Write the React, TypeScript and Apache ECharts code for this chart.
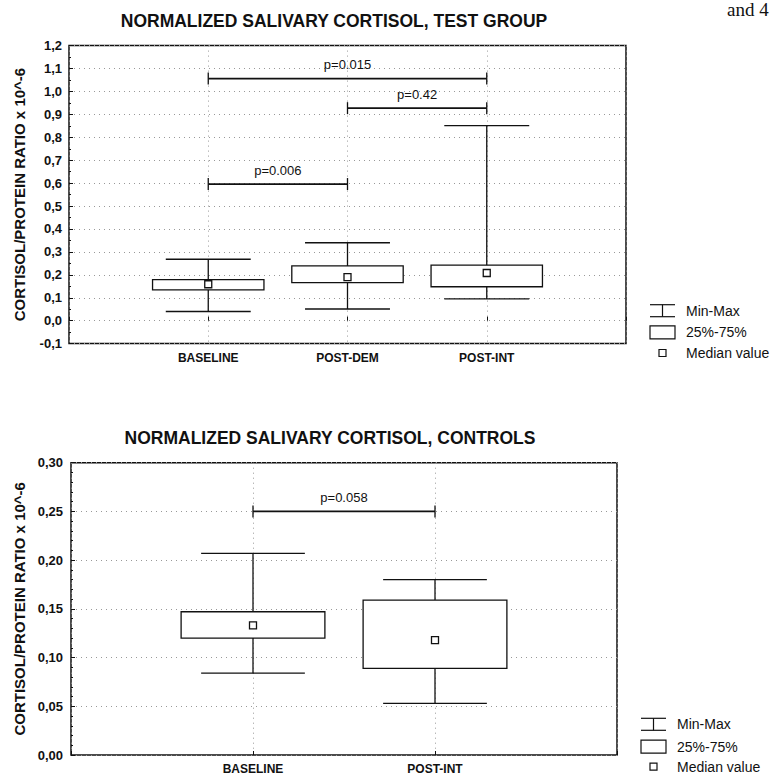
import React, { useEffect, useRef } from "react";
import * as echarts from "echarts";

const FONT = "'Liberation Sans', Arial, Helvetica, sans-serif";

// ---- Test group ----
const testCategories = ["BASELINE", "POST-DEM", "POST-INT"];
const testMin = [0.04, 0.051, 0.095];
const testQ1 = [0.134, 0.166, 0.148];
const testMedian = [0.159, 0.19, 0.208];
const testQ3 = [0.179, 0.239, 0.242];
const testMax = [0.268, 0.34, 0.851];
const testBracketFrom = [1, 2, 1];
const testBracketTo = [3, 3, 2];
const testBracketY = [1.056, 0.927, 0.596];
const testBracketLabel = ["p=0.015", "p=0.42", "p=0.006"];

// ---- Controls ----
const controlCategories = ["BASELINE", "POST-INT"];
const controlMin = [0.084, 0.053];
const controlQ1 = [0.12, 0.089];
const controlMedian = [0.133, 0.118];
const controlQ3 = [0.147, 0.159];
const controlMax = [0.207, 0.18];
const controlBracketFrom = [1];
const controlBracketTo = [2];
const controlBracketY = [0.25];
const controlBracketLabel = ["p=0.058"];

const legendLabels = ["Min-Max", "25%-75%", "Median value"];
const yAxisName = "CORTISOL/PROTEIN RATIO x 10^-6";
const titleTest = "NORMALIZED SALIVARY CORTISOL, TEST GROUP";
const titleControls = "NORMALIZED SALIVARY CORTISOL, CONTROLS";

function boxData(cats: string[], mn: number[], q1: number[], md: number[], q3: number[], mx: number[]) {
  return cats.map((_, i) => [i + 1, mn[i], q1[i], md[i], q3[i], mx[i]]);
}
function bracketData(from: number[], to: number[], y: number[]) {
  return from.map((f, i) => [f, to[i], y[i]]);
}

const STROKE = "#111";

function makeBoxRenderer(boxFrac: number, capFrac: number) {
  return (params: any, api: any) => {
    const x = api.value(0);
    const band = api.size([1, 0])[0];
    const p = (v: number) => api.coord([x, v]);
    const [cx, yMin] = p(api.value(1));
    const yQ1 = p(api.value(2))[1];
    const yMed = p(api.value(3))[1];
    const yQ3 = p(api.value(4))[1];
    const yMax = p(api.value(5))[1];
    const bw = band * boxFrac;
    const cw = band * capFrac;
    const ls = { stroke: STROKE, lineWidth: 1.3 };
    return {
      type: "group",
      children: [
        { type: "line", shape: { x1: cx, y1: yMax, x2: cx, y2: yQ3 }, style: ls },
        { type: "line", shape: { x1: cx, y1: yQ1, x2: cx, y2: yMin }, style: ls },
        { type: "line", shape: { x1: cx - cw / 2, y1: yMax, x2: cx + cw / 2, y2: yMax }, style: ls },
        { type: "line", shape: { x1: cx - cw / 2, y1: yMin, x2: cx + cw / 2, y2: yMin }, style: ls },
        {
          type: "rect",
          shape: { x: cx - bw / 2, y: yQ3, width: bw, height: yQ1 - yQ3 },
          style: { fill: "#fff", stroke: STROKE, lineWidth: 1.3 },
        },
        {
          type: "rect",
          shape: { x: cx - 3.5, y: yMed - 3.5, width: 7, height: 7 },
          style: { fill: "#fff", stroke: STROKE, lineWidth: 1.3 },
        },
      ],
    };
  };
}

function makeBracketRenderer(labels: string[]) {
  return (params: any, api: any) => {
    const [x1, y] = api.coord([api.value(0), api.value(2)]);
    const x2 = api.coord([api.value(1), api.value(2)])[0];
    return {
      type: "group",
      children: [
        { type: "line", shape: { x1, y1: y, x2, y2: y }, style: { stroke: STROKE, lineWidth: 1.8 } },
        { type: "line", shape: { x1, y1: y - 6, x2: x1, y2: y + 6 }, style: { stroke: STROKE, lineWidth: 1.3 } },
        { type: "line", shape: { x1: x2, y1: y - 6, x2, y2: y + 6 }, style: { stroke: STROKE, lineWidth: 1.3 } },
        {
          type: "text",
          style: {
            text: labels[params.dataIndex],
            x: (x1 + x2) / 2,
            y: y - 14,
            align: "center",
            verticalAlign: "middle",
            fontSize: 13,
            fontFamily: FONT,
            fill: "#111",
          },
        },
      ],
    };
  };
}

function legendGraphic(x0: number, rows: number[], textX: number) {
  const w = 25;
  const cx = x0 + w / 2;
  const ls = { stroke: STROKE, lineWidth: 1.2, fill: "none" };
  const els: any[] = [
    { type: "line", shape: { x1: x0, y1: rows[0] - 6, x2: x0 + w, y2: rows[0] - 6 }, style: ls },
    { type: "line", shape: { x1: x0, y1: rows[0] + 6, x2: x0 + w, y2: rows[0] + 6 }, style: ls },
    { type: "line", shape: { x1: cx, y1: rows[0] - 6, x2: cx, y2: rows[0] + 6 }, style: ls },
    { type: "rect", shape: { x: x0, y: rows[1] - 6.5, width: w, height: 13 }, style: { fill: "#fff", stroke: STROKE, lineWidth: 1.2 } },
    { type: "rect", shape: { x: cx - 3.5, y: rows[2] - 3.5, width: 7, height: 7 }, style: { fill: "#fff", stroke: STROKE, lineWidth: 1.2 } },
  ];
  legendLabels.forEach((t, i) => {
    els.push({
      type: "text",
      x: textX,
      y: rows[i],
      style: { text: t, align: "left", verticalAlign: "middle", fontSize: 14, fontFamily: FONT, fill: "#111" },
    });
  });
  return els;
}

const gridLine = { show: true, lineStyle: { color: "#999", width: 1, type: [1, 4] as any } };

export default function App() {
  const ref = useRef<HTMLDivElement>(null);
  useEffect(() => {
    if (!ref.current) return;
    const chart = echarts.init(ref.current, null, { renderer: "svg" });
    const xLabel = (cats: string[]) => (v: number) => (Number.isInteger(v) && v >= 1 && v <= cats.length ? cats[v - 1] : "");
    const yLabel = (dec: number) => (v: number) => v.toFixed(dec).replace(".", ",");
    const xAxisBase = {
      type: "value",
      interval: 1,
      min: 0,
      axisLine: { show: false },
      axisTick: { show: true, inside: true, length: 4, lineStyle: { color: STROKE } },
      splitLine: gridLine,
      axisLabel: {
        margin: 8,
        fontSize: 12,
        fontWeight: "bold",
        fontFamily: FONT,
        color: "#111",
        showMinLabel: true,
        showMaxLabel: true,
      },
    };
    const yAxisBase = {
      type: "value",
      axisLine: { show: false },
      axisTick: { show: true, inside: true, length: 4, lineStyle: { color: STROKE } },
      minorTick: { show: true, splitNumber: 2, length: 2, lineStyle: { color: STROKE } },
      splitLine: gridLine,
      nameLocation: "middle",
      nameRotate: 90,
      nameTextStyle: { fontSize: 15, fontWeight: "bold", fontFamily: FONT, color: "#111" },
      axisLabel: { fontSize: 13, fontWeight: "bold", fontFamily: FONT, color: "#111" },
    };
    const option: any = {
      animation: false,
      backgroundColor: "#fff",
      grid: [
        { left: 69, right: 145, top: 45.6, bottom: 431.4, show: true, borderColor: STROKE, borderWidth: 1.5, backgroundColor: "transparent" },
        { left: 71, right: 154, top: 462.7, bottom: 18.3, show: true, borderColor: STROKE, borderWidth: 1.5, backgroundColor: "transparent" },
      ],
      xAxis: [
        { ...xAxisBase, gridIndex: 0, max: testCategories.length + 1, axisLabel: { ...xAxisBase.axisLabel, formatter: xLabel(testCategories) } },
        { ...xAxisBase, gridIndex: 1, max: controlCategories.length + 1, axisLabel: { ...xAxisBase.axisLabel, formatter: xLabel(controlCategories) } },
      ],
      yAxis: [
        {
          ...yAxisBase,
          gridIndex: 0,
          min: -0.1,
          max: 1.2,
          interval: 0.1,
          name: yAxisName,
          nameGap: 42,
          axisLabel: { ...yAxisBase.axisLabel, margin: 7, formatter: yLabel(1) },
        },
        {
          ...yAxisBase,
          gridIndex: 1,
          min: 0,
          max: 0.3,
          interval: 0.05,
          name: yAxisName,
          nameGap: 44,
          minorTick: { show: true, splitNumber: 5, length: 2, lineStyle: { color: STROKE } },
          axisLabel: { ...yAxisBase.axisLabel, margin: 8, formatter: yLabel(2) },
        },
      ],
      series: [
        {
          type: "custom",
          xAxisIndex: 0,
          yAxisIndex: 0,
          renderItem: makeBoxRenderer(0.8, 0.61),
          encode: { x: 0, y: [1, 2, 3, 4, 5] },
          data: boxData(testCategories, testMin, testQ1, testMedian, testQ3, testMax),
          z: 3,
        },
        {
          type: "custom",
          xAxisIndex: 0,
          yAxisIndex: 0,
          renderItem: makeBracketRenderer(testBracketLabel),
          encode: { x: [0, 1], y: 2 },
          data: bracketData(testBracketFrom, testBracketTo, testBracketY),
          z: 3,
        },
        {
          type: "custom",
          xAxisIndex: 1,
          yAxisIndex: 1,
          renderItem: makeBoxRenderer(0.79, 0.57),
          encode: { x: 0, y: [1, 2, 3, 4, 5] },
          data: boxData(controlCategories, controlMin, controlQ1, controlMedian, controlQ3, controlMax),
          z: 3,
        },
        {
          type: "custom",
          xAxisIndex: 1,
          yAxisIndex: 1,
          renderItem: makeBracketRenderer(controlBracketLabel),
          encode: { x: [0, 1], y: 2 },
          data: bracketData(controlBracketFrom, controlBracketTo, controlBracketY),
          z: 3,
        },
      ],
      graphic: [
        {
          type: "text",
          x: 334,
          y: 20.5,
          style: { text: titleTest, align: "center", verticalAlign: "middle", fontSize: 17.5, fontWeight: "bold", fontFamily: FONT, fill: "#111" },
        },
        {
          type: "text",
          x: 330,
          y: 437.5,
          style: { text: titleControls, align: "center", verticalAlign: "middle", fontSize: 17.5, fontWeight: "bold", fontFamily: FONT, fill: "#111" },
        },
        {
          type: "text",
          x: 727,
          y: 9,
          style: { text: "and 4", align: "left", verticalAlign: "middle", fontSize: 19, fontFamily: "'Liberation Serif', 'DejaVu Serif', serif", fill: "#111" },
        },
        ...legendGraphic(650, [310.7, 332.3, 353], 686),
        ...legendGraphic(641, [724.3, 746.7, 766.7], 677),
      ],
    };
    chart.setOption(option);
    return () => chart.dispose();
  }, []);
  return <div ref={ref} style={{ position: "fixed", left: 0, top: 0, width: 771, height: 775 }} />;
}
